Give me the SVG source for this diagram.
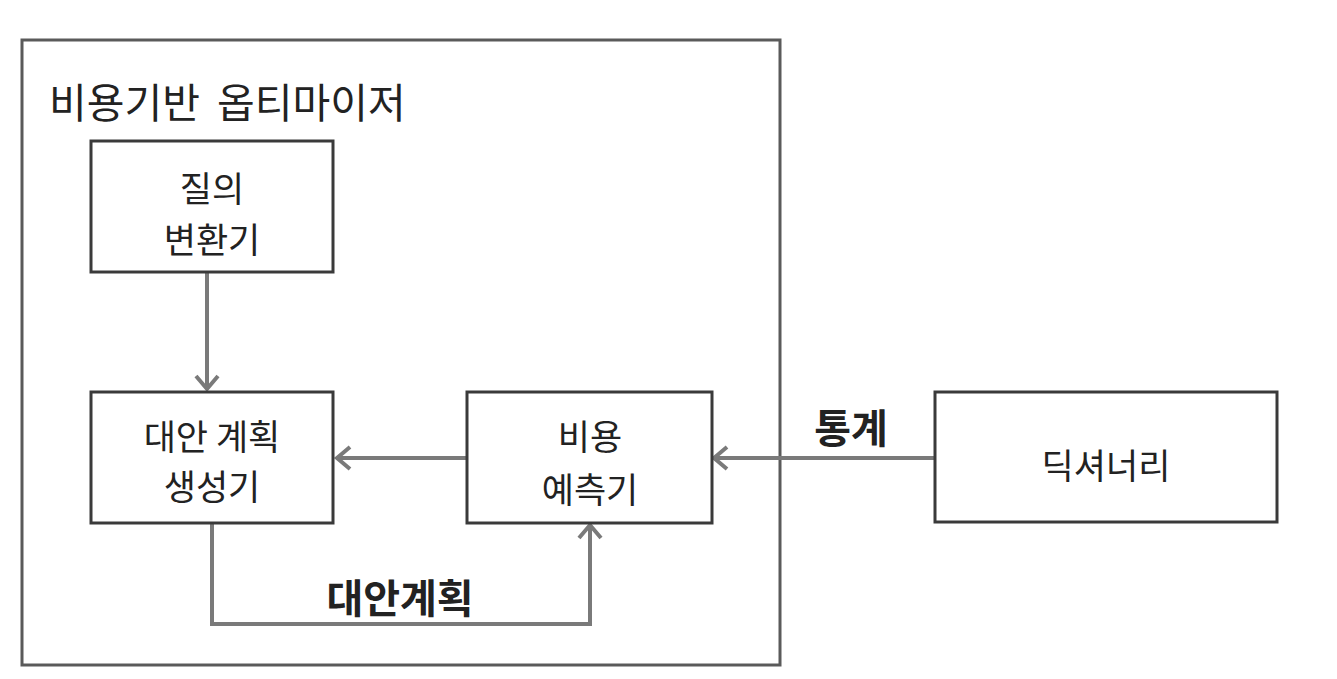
<svg xmlns="http://www.w3.org/2000/svg" width="1337" height="679" viewBox="0 0 1337 679">
<style>
.box{fill:#fff;stroke:#3a3a3a;stroke-width:3}
.outer{fill:#fff;stroke:#5a5a5a;stroke-width:3}
.t{font-family:"Noto Sans CJK KR","Noto Sans",sans-serif;font-size:35px;fill:#222;text-anchor:middle}
.title{font-family:"Noto Sans CJK KR","Noto Sans",sans-serif;font-size:41px;fill:#222}
.lbl{font-family:"Noto Sans CJK KR","Noto Sans",sans-serif;font-size:40px;font-weight:bold;fill:#222;text-anchor:middle}
.c{fill:none;stroke:#7a7a7a;stroke-width:4;marker-end:url(#ah)}
</style>
<defs>
<marker id="ah" viewBox="0 0 20 26" refX="18" refY="13" markerWidth="20" markerHeight="26" markerUnits="userSpaceOnUse" orient="auto" overflow="visible">
<path d="M5,2 L18,13 L5,24" fill="none" stroke="#7a7a7a" stroke-width="4"/>
</marker>
</defs>
<rect width="1337" height="679" fill="#fff"/>
<g id="optimizer">
<rect class="outer" x="22" y="40" width="758" height="625"/>
<text class="title" x="49" y="118" word-spacing="8">비용기반 옵티마이저</text>
</g>
<g id="connectors">
<path class="c" d="M207,272 L207,389"/>
<path class="c" d="M467,458 L337,458"/>
<path class="c" d="M935,458 L714,458"/>
<path class="c" d="M212,523 L212,624 L590,624 L590,525"/>
<text class="lbl" x="851" y="443">통계</text>
<text class="lbl" x="400" y="613">대안계획</text>
</g>
<g id="query-transformer">
<rect class="box" x="91" y="141" width="242" height="131"/>
<text class="t" x="212" y="202">질의</text>
<text class="t" x="212" y="253">변환기</text>
</g>
<g id="plan-generator">
<rect class="box" x="91" y="392" width="242" height="131"/>
<text class="t" x="212" y="450">대안 계획</text>
<text class="t" x="212" y="500">생성기</text>
</g>
<g id="cost-estimator">
<rect class="box" x="467" y="392" width="245" height="131"/>
<text class="t" x="590" y="450">비용</text>
<text class="t" x="590" y="503">예측기</text>
</g>
<g id="dictionary">
<rect class="box" x="935" y="392" width="342" height="130"/>
<text class="t" x="1106" y="479">딕셔너리</text>
</g>
</svg>
